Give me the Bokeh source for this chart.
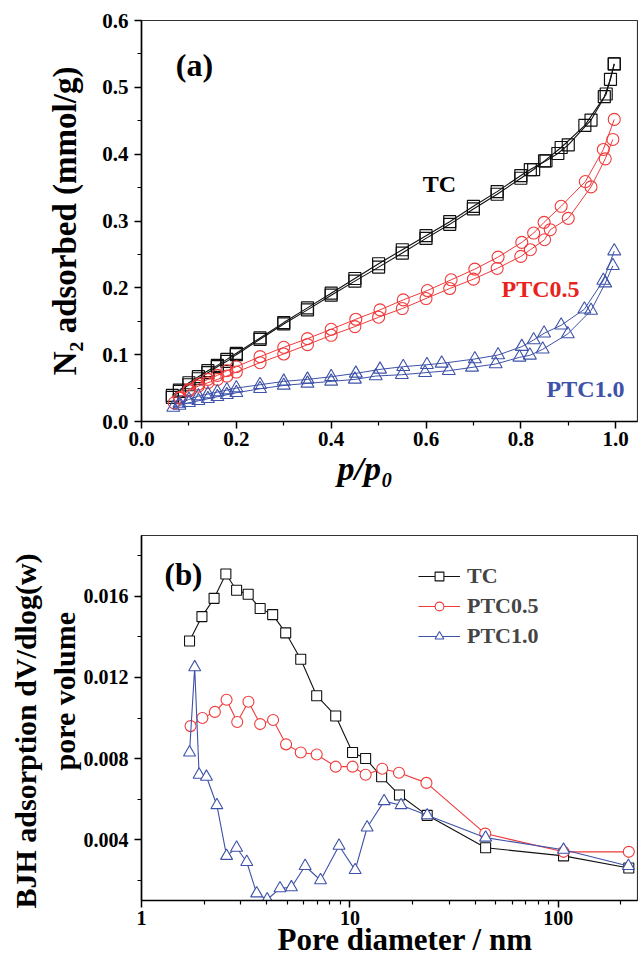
from bokeh.plotting import figure
from bokeh.layouts import column
from bokeh.models import Range1d, FixedTicker, PrintfTickFormatter, Label, Legend, LegendItem, Title
from bokeh.embed import file_html
from bokeh.resources import INLINE

# ---------------- data: panel (a) N2 isotherms ----------------
TC_ads_p = [0.065, 0.08, 0.10, 0.12, 0.14, 0.16, 0.18, 0.20, 0.25, 0.30, 0.35, 0.40, 0.45, 0.50,
            0.55, 0.60, 0.65, 0.70, 0.75, 0.80, 0.827, 0.85, 0.885, 0.935, 0.976, 0.989, 0.997]
TC_ads_v = [0.036, 0.045, 0.055, 0.064, 0.073, 0.082, 0.090, 0.100, 0.123, 0.146, 0.167, 0.189, 0.210, 0.231,
            0.252, 0.274, 0.295, 0.318, 0.340, 0.364, 0.377, 0.390, 0.410, 0.443, 0.486, 0.512, 0.535]
TC_des_p = [0.997, 0.98, 0.948, 0.90, 0.878, 0.853, 0.82, 0.80, 0.75, 0.70, 0.65, 0.60, 0.55, 0.50,
            0.45, 0.40, 0.35, 0.30, 0.25, 0.20, 0.18, 0.16, 0.14, 0.12, 0.10, 0.08, 0.065]
TC_des_v = [0.535, 0.490, 0.451, 0.414, 0.401, 0.390, 0.377, 0.368, 0.344, 0.322, 0.299, 0.278, 0.257, 0.236,
            0.214, 0.192, 0.170, 0.148, 0.125, 0.102, 0.093, 0.084, 0.076, 0.067, 0.058, 0.047, 0.039]

P05_ads_p = [0.069, 0.081, 0.10, 0.12, 0.14, 0.16, 0.18, 0.20, 0.25, 0.30, 0.35, 0.40, 0.45, 0.50,
             0.55, 0.60, 0.65, 0.70, 0.75, 0.80, 0.82, 0.85, 0.862, 0.90, 0.948, 0.978, 0.994]
P05_ads_v = [0.028, 0.036, 0.046, 0.053, 0.058, 0.063, 0.068, 0.074, 0.088, 0.101, 0.115, 0.129, 0.142, 0.156,
             0.169, 0.184, 0.199, 0.213, 0.229, 0.247, 0.257, 0.272, 0.287, 0.304, 0.351, 0.393, 0.422]
P05_des_p = [0.997, 0.974, 0.936, 0.885, 0.849, 0.827, 0.802, 0.752, 0.703, 0.653, 0.603, 0.552, 0.503, 0.452,
             0.40, 0.35, 0.30, 0.25, 0.20, 0.18, 0.16, 0.14, 0.12, 0.10, 0.08]
P05_des_v = [0.452, 0.407, 0.359, 0.322, 0.298, 0.282, 0.268, 0.246, 0.228, 0.212, 0.196, 0.182, 0.167, 0.153,
             0.138, 0.124, 0.111, 0.097, 0.082, 0.076, 0.069, 0.063, 0.056, 0.048, 0.035]

P10_ads_p = [0.067, 0.08, 0.10, 0.12, 0.14, 0.16, 0.18, 0.20, 0.25, 0.30, 0.35, 0.40, 0.45, 0.494,
             0.549, 0.598, 0.648, 0.697, 0.747, 0.797, 0.819, 0.846, 0.899, 0.948, 0.978, 0.994]
P10_ads_v = [0.021, 0.024, 0.028, 0.031, 0.034, 0.037, 0.040, 0.043, 0.049, 0.054, 0.057, 0.060, 0.063, 0.068,
             0.070, 0.073, 0.076, 0.081, 0.086, 0.096, 0.099, 0.108, 0.131, 0.166, 0.207, 0.233]
P10_des_p = [0.997, 0.974, 0.934, 0.885, 0.849, 0.827, 0.802, 0.752, 0.703, 0.633, 0.602, 0.552, 0.503, 0.452,
             0.40, 0.35, 0.30, 0.25, 0.20, 0.18, 0.16, 0.14, 0.12, 0.10, 0.08]
P10_des_v = [0.255, 0.211, 0.168, 0.144, 0.132, 0.122, 0.112, 0.0995, 0.0935, 0.087, 0.085, 0.082, 0.078, 0.072,
             0.067, 0.063, 0.060, 0.055, 0.050, 0.047, 0.044, 0.041, 0.038, 0.033, 0.027]

# ---------------- data: panel (b) BJH pore size distribution ----------------
TC_d = [1.70, 1.95, 2.23, 2.54, 2.86, 3.25, 3.71, 4.26, 4.92, 5.81, 6.93, 8.55, 10.3, 11.9, 14.2, 17.3,
        23.5, 44.8, 106, 218]
TC_pv = [0.0138, 0.0150, 0.0159, 0.0171, 0.0163, 0.0161, 0.0154, 0.0151, 0.0142, 0.0129, 0.0111, 0.0101,
         0.0083, 0.0080, 0.0071, 0.0062, 0.0052, 0.0036, 0.0032, 0.0026]
P05_d = [1.72, 1.96, 2.25, 2.56, 2.88, 3.26, 3.71, 4.28, 4.94, 5.81, 6.93, 8.55, 10.3, 11.9, 14.3, 17.2,
         23.3, 44.6, 106, 218]
P05_pv = [0.0096, 0.0100, 0.0103, 0.0109, 0.0098, 0.0108, 0.0097, 0.0099, 0.0087, 0.0083, 0.0082, 0.0076,
          0.0076, 0.0072, 0.0075, 0.0073, 0.0068, 0.0043, 0.0034, 0.0034]
P10_d = [1.70, 1.80, 1.89, 2.05, 2.30, 2.56, 2.86, 3.20, 3.57, 4.01, 4.62, 5.24, 6.10, 7.23, 8.87, 10.6,
         12.1, 14.6, 17.6, 23.5, 44.8, 106, 217]
P10_pv = [0.0083, 0.0125, 0.0072, 0.0071, 0.0057, 0.0032, 0.0036, 0.0029, 0.00135, 0.00105, 0.0016, 0.00165,
          0.0027, 0.0020, 0.0037, 0.0025, 0.0046, 0.0059, 0.0057, 0.0052, 0.0041, 0.0035, 0.0027]

series_names = ["TC", "PTC0.5", "PTC1.0"]

# tick definitions
a_xticks = [0.0, 0.2, 0.4, 0.6, 0.8, 1.0]
a_xminor = [0.1, 0.3, 0.5, 0.7, 0.9]
a_yticks = [0.0, 0.1, 0.2, 0.3, 0.4, 0.5, 0.6]
a_yminor = [0.05, 0.15, 0.25, 0.35, 0.45, 0.55]
b_xticks = [1, 10, 100]
b_xminor = [2, 3, 4, 5, 6, 7, 8, 9, 20, 30, 40, 50, 60, 70, 80, 90, 200]
b_yticks = [0.004, 0.008, 0.012, 0.016]
b_yminor = [0.002, 0.006, 0.010, 0.014, 0.018]

FONT = "Liberation Serif"
BLACK = "#111111"
RED = "#f03a3a"
BLUE = "#3d52a8"


def style(p, fs):
    p.xgrid.visible = False
    p.ygrid.visible = False
    p.outline_line_color = "#333333"
    p.outline_line_width = 1.2
    p.background_fill_color = "white"
    p.border_fill_color = "white"
    for ax in p.axis:
        ax.axis_line_width = 1.6
        ax.axis_line_color = "black"
        ax.major_tick_in = 0
        ax.major_tick_out = 7
        ax.minor_tick_in = 0
        ax.minor_tick_out = 4
        ax.major_tick_line_width = 1.5
        ax.minor_tick_line_width = 1.2
        ax.major_tick_line_color = "black"
        ax.minor_tick_line_color = "black"
        ax.major_label_text_font = FONT
        ax.major_label_text_font_style = "bold"
        ax.major_label_text_font_size = fs
        ax.major_label_text_color = "black"
        ax.major_label_standoff = 6


def lab(p, x, y, text, size, color="black"):
    p.add_layout(Label(x=x, y=y, x_units="screen", y_units="screen", text=text,
                       text_font=FONT, text_font_style="bold", text_font_size=size,
                       text_color=color, text_align="center", text_baseline="middle"))


def side_title(p, side, text, size, align, offset, standoff, valign, fstyle="bold"):
    p.add_layout(Title(text=text, align=align, offset=offset, standoff=standoff, vertical_align=valign,
                       text_font=FONT, text_font_style=fstyle, text_font_size=size,
                       text_color="black"), side)


# ---------------- panel (a) ----------------
p1 = figure(width=638, height=497, output_backend="svg", toolbar_location=None,
            x_range=Range1d(0, 1.046), y_range=Range1d(0, 0.6),
            min_border_left=141, min_border_right=1, min_border_top=20, min_border_bottom=76)
style(p1, "21px")
p1.xaxis.major_label_standoff = 3
p1.xaxis.ticker = FixedTicker(ticks=a_xticks, minor_ticks=a_xminor)
p1.yaxis.ticker = FixedTicker(ticks=a_yticks, minor_ticks=a_yminor)
p1.xaxis.formatter = PrintfTickFormatter(format="%.1f")
p1.yaxis.formatter = PrintfTickFormatter(format="%.1f")
p1.yaxis.axis_label = "N\u2082 adsorbed (mmol/g)"
p1.yaxis.axis_label_text_font = FONT
p1.yaxis.axis_label_text_font_style = "bold"
p1.yaxis.axis_label_text_font_size = "33px"
p1.yaxis.axis_label_text_color = "black"
p1.yaxis.axis_label_standoff = 16

for px, py in [(TC_ads_p, TC_ads_v), (TC_des_p, TC_des_v)]:
    p1.line(px, py, line_color=BLACK, line_width=1.1)
    p1.scatter(px, py, marker="square", size=12, fill_color="white", fill_alpha=0.0,
               line_color=BLACK, line_width=1.2)
for px, py in [(P05_ads_p, P05_ads_v), (P05_des_p, P05_des_v)]:
    p1.line(px, py, line_color=RED, line_width=1.0)
    p1.scatter(px, py, marker="circle", size=12, fill_color="white", fill_alpha=0.0,
               line_color=RED, line_width=1.1)
for px, py in [(P10_ads_p, P10_ads_v), (P10_des_p, P10_des_v)]:
    p1.line(px, py, line_color=BLUE, line_width=1.0)
    p1.scatter(px, py, marker="triangle", size=13, fill_color="white", fill_alpha=0.0,
               line_color=BLUE, line_width=1.1)

lab(p1, 53, 357, "(a)", "32px")
lab(p1, 298, 238, series_names[0], "24px")
lab(p1, 399, 133, series_names[1], "24px", color="#e8231e")
lab(p1, 444, 33, series_names[2], "24px", color=BLUE)
side_title(p1, "below", "p/p\u2080", "34px", "left", 196, 2, "top", fstyle="bold italic")

# ---------------- panel (b) ----------------
p2 = figure(width=638, height=460, output_backend="svg", toolbar_location=None, x_axis_type="log",
            x_range=Range1d(1, 240), y_range=Range1d(0.001, 0.019),
            min_border_left=141, min_border_right=1, min_border_top=38, min_border_bottom=57)
style(p2, "20px")
p2.xaxis.major_label_standoff = 3
p2.xaxis.ticker = FixedTicker(ticks=b_xticks, minor_ticks=b_xminor)
p2.yaxis.ticker = FixedTicker(ticks=b_yticks, minor_ticks=b_yminor)
p2.xaxis.formatter = PrintfTickFormatter(format="%d")
p2.yaxis.formatter = PrintfTickFormatter(format="%.3f")

items = []
for name, dx, dy, mk, col, sz in [(series_names[0], TC_d, TC_pv, "square", BLACK, 10),
                                   (series_names[1], P05_d, P05_pv, "circle", RED, 11),
                                   (series_names[2], P10_d, P10_pv, "triangle", BLUE, 12)]:
    r1 = p2.line(dx, dy, line_color=col, line_width=1.1)
    r2 = p2.scatter(dx, dy, marker=mk, size=sz, fill_color="white", line_color=col, line_width=1.1)
    items.append(LegendItem(label=name, renderers=[r1, r2]))

leg = Legend(items=items, location=(277, 251), padding=0, margin=0, spacing=4,
             glyph_width=42, glyph_height=22, label_height=22, label_standoff=7,
             label_text_font=FONT, label_text_font_style="bold", label_text_font_size="22px",
             border_line_color=None, background_fill_alpha=0.0)
p2.add_layout(leg, "center")

lab(p2, 42, 326, "(b)", "31px")
side_title(p2, "left", "pore volume", "30px", "left", 130, 0, "bottom")
side_title(p2, "left", "BJH adsorption dV/dlog(w)", "30px", "left", -8, 4, "top")
side_title(p2, "below", "Pore diameter / nm", "31px", "left", 136, -12, "top")

layout = column(p1, p2, spacing=0)
open("out.html", "w").write(file_html(layout, INLINE))
